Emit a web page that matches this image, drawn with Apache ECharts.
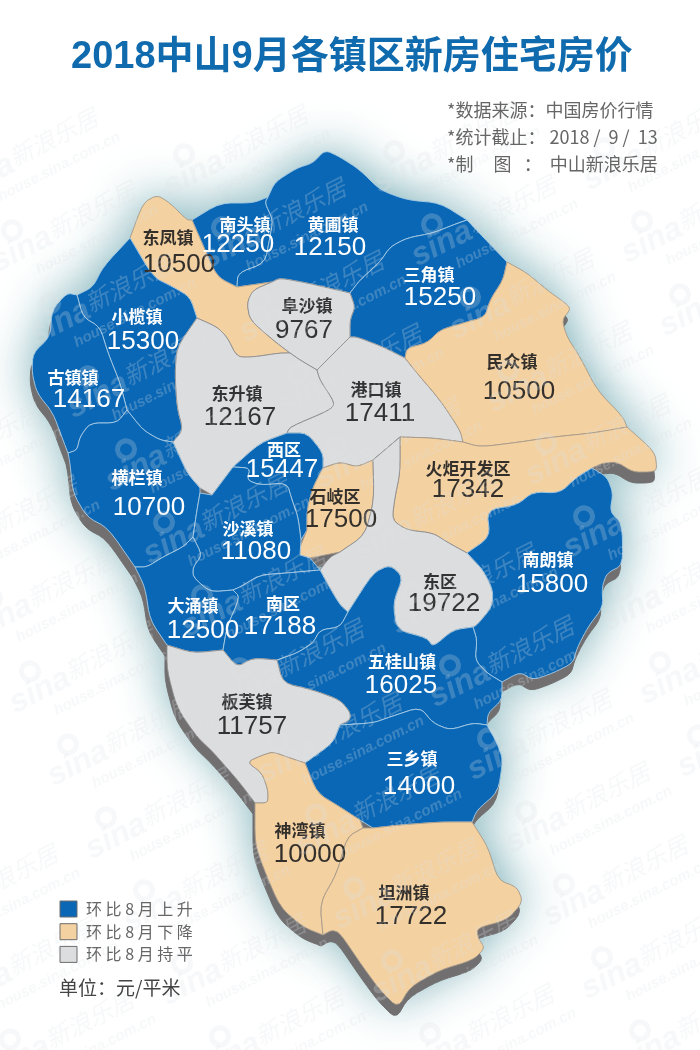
<!DOCTYPE html>
<html>
<head>
<meta charset="utf-8">
<title>2018中山9月各镇区新房住宅房价</title>
<style>
html,body{margin:0;padding:0;background:#fff;}
#chart{width:700px;height:1050px;}
</style>
</head>
<body>
<div id="chart"></div>
<script src="https://cdn.jsdelivr.net/npm/echarts@6/dist/echarts.min.js"></script>
<script>
var towns = ['南头镇','黄圃镇','东凤镇','三角镇','阜沙镇','小榄镇','古镇镇','东升镇','港口镇','民众镇','西区','横栏镇','石岐区','火炬开发区','沙溪镇','东区','南朗镇','大涌镇','南区','五桂山镇','板芙镇','三乡镇','神湾镇','坦洲镇'];
var prices = [12250,12150,10500,15250,9767,15300,14167,12167,17411,10500,15447,10700,17500,17342,11080,19722,15800,12500,17188,16025,11757,14000,10000,17722];
var trends = ['up','up','down','up','flat','up','up','flat','flat','down','up','up','down','down','up','flat','up','up','up','up','flat','up','down','down'];
var legendTexts = ['环 比 8 月 上 升','环 比 8 月 下 降','环 比 8 月 持 平'];
var legendTrends = ['up','down','flat'];
var notes = ['*数据来源：中国房价行情','*统计截止： 2018 /  9 /  13','*制     图   ：  中山新浪乐居'];

var fontFamily = '"Liberation Sans","Noto Sans CJK SC",sans-serif';
var cjkFont = '"Noto Sans CJK SC","Liberation Sans",sans-serif';
var trendStyle = {
	up: {color:'#0a67b5', border:'#a8cde6', text:'#fff'},
	down: {color:'#f4d1a1', border:'#a89c8c', text:'#33302c'},
	flat: {color:'#dcdddf', border:'#8f8f8f', text:'#333'}
};

// 区域轮廓，按图片像素描的
var shapes = {
	'南头镇': {nameAt:[245,225], valueAt:[238,245], line:[[192,220],[220,203],[253,203],[268,197],[265,203],[273,220],[270,237],[265,263],[238,273],[237,287],[217,277],[202,243]]},
	'黄圃镇': {nameAt:[333,225], valueAt:[330,248], line:[[268,197],[275,182],[297,168],[313,163],[325,150],[340,157],[360,170],[380,190],[407,200],[440,203],[467,220],[453,225],[433,233],[407,238],[390,247],[380,262],[360,280],[350,293],[337,290],[307,283],[280,278],[272,282],[237,287],[238,273],[265,263],[270,237],[273,220],[265,203]]},
	'东凤镇': {nameAt:[168,238], valueAt:[179,265], line:[[130,238],[143,203],[157,195],[170,203],[187,220],[192,220],[202,243],[217,277],[237,287],[272,282],[253,290],[247,303],[250,320],[273,340],[290,353],[280,353],[253,357],[237,357],[227,337],[217,327],[197,318],[190,297],[173,287],[153,277]]},
	'三角镇': {nameAt:[429,275], valueAt:[440,298], line:[[467,220],[483,237],[507,262],[503,280],[490,300],[485,317],[463,323],[440,330],[427,343],[407,348],[405,358],[383,347],[357,337],[350,337],[350,320],[355,307],[350,293],[360,280],[380,262],[390,247],[407,238],[433,233],[453,225]]},
	'阜沙镇': {nameAt:[307,306], valueAt:[304,331], line:[[272,282],[280,278],[307,283],[337,290],[350,293],[355,307],[350,320],[350,337],[340,347],[317,370],[300,360],[290,353],[273,340],[250,320],[247,303],[253,290]]},
	'小榄镇': {nameAt:[137,317], valueAt:[143,342], line:[[77,295],[93,287],[103,267],[130,238],[153,277],[173,287],[190,297],[197,318],[177,347],[175,373],[177,407],[183,430],[173,442],[160,440],[143,430],[127,410],[120,383],[108,353],[100,327],[83,317]]},
	'古镇镇': {nameAt:[73,378], valueAt:[89,400], line:[[77,295],[67,293],[52,310],[50,337],[33,353],[32,373],[37,393],[53,413],[63,440],[68,453],[77,450],[80,437],[90,423],[117,423],[127,410],[120,383],[108,353],[100,327],[83,317]]},
	'东升镇': {nameAt:[237,394], valueAt:[240,418], line:[[197,318],[217,327],[227,337],[237,357],[253,357],[280,353],[290,353],[300,360],[317,370],[320,380],[335,403],[330,410],[290,427],[287,433],[260,443],[233,467],[212,495],[200,488],[187,473],[173,442],[183,430],[177,407],[175,373],[177,347]]},
	'港口镇': {nameAt:[376,390], valueAt:[380,414], line:[[317,370],[340,347],[350,337],[357,337],[383,347],[405,358],[417,373],[440,400],[460,430],[463,442],[433,438],[400,437],[373,460],[357,467],[340,462],[323,468],[323,453],[307,433],[287,433],[290,427],[330,410],[335,403],[320,380]]},
	'民众镇': {nameAt:[512,362], valueAt:[519,392], line:[[507,262],[527,273],[547,290],[568,305],[570,310],[562,320],[567,337],[580,357],[597,390],[623,417],[627,427],[593,433],[553,437],[520,442],[480,447],[463,442],[460,430],[440,400],[417,373],[405,358],[407,348],[427,343],[440,330],[463,323],[485,317],[490,300],[503,280]]},
	'西区': {nameAt:[284,450], valueAt:[282,470], line:[[233,467],[260,443],[287,433],[307,433],[323,453],[323,468],[313,487],[307,510],[307,530],[301,540],[298,517],[292,500],[287,483],[260,485],[247,480],[250,468]]},
	'横栏镇': {nameAt:[137,478], valueAt:[149,508], line:[[68,453],[70,463],[73,493],[87,517],[108,528],[135,567],[147,567],[163,557],[183,547],[193,537],[197,510],[200,493],[200,488],[187,473],[173,442],[160,440],[143,430],[127,410],[117,423],[90,423],[80,437],[77,450]]},
	'石岐区': {nameAt:[335,497], valueAt:[341,520], line:[[323,468],[340,462],[357,467],[373,460],[374,500],[365,535],[340,552],[310,558],[300,555],[300,547],[307,530],[307,510],[313,487]]},
	'火炬开发区': {nameAt:[468,469], valueAt:[468,490], line:[[627,427],[655,452],[657,470],[650,472],[633,472],[617,462],[603,463],[592,468],[577,477],[560,493],[533,492],[517,505],[487,510],[490,537],[467,553],[447,542],[433,533],[407,530],[392,520],[395,497],[400,473],[400,437],[433,438],[463,442],[480,447],[520,442],[553,437],[593,433]]},
	'沙溪镇': {nameAt:[248,529], valueAt:[256,552], line:[[197,510],[200,493],[212,495],[233,467],[250,468],[247,480],[260,485],[287,483],[292,500],[298,517],[301,540],[300,555],[310,558],[320,570],[287,573],[260,575],[240,587],[233,590],[210,592],[193,577],[193,567],[202,555],[193,537]]},
	'东区': {nameAt:[440,582], valueAt:[444,604], line:[[373,460],[400,437],[400,473],[395,497],[392,520],[407,530],[433,533],[447,542],[467,553],[483,570],[493,590],[492,607],[477,625],[473,627],[453,630],[433,647],[427,638],[397,630],[393,603],[403,577],[390,565],[373,573],[348,612],[340,605],[327,583],[320,570],[330,557],[340,552],[365,535],[374,500]]},
	'南朗镇': {nameAt:[548,560], valueAt:[552,585], line:[[592,468],[607,477],[613,493],[610,512],[622,523],[623,565],[607,573],[602,587],[603,607],[588,627],[577,648],[573,663],[553,673],[533,680],[520,672],[502,682],[487,673],[475,660],[477,640],[473,627],[477,625],[492,607],[493,590],[483,570],[467,553],[490,537],[487,510],[517,505],[533,492],[560,493],[577,477]]},
	'大涌镇': {nameAt:[193,606], valueAt:[203,631], line:[[135,567],[145,587],[150,620],[167,645],[193,653],[223,650],[227,627],[240,597],[233,590],[210,592],[193,577],[193,567],[202,555],[193,537],[183,547],[163,557],[147,567]]},
	'南区': {nameAt:[283,604], valueAt:[280,627], line:[[233,590],[240,587],[260,575],[287,573],[320,570],[327,583],[340,605],[348,612],[340,627],[320,630],[313,643],[297,653],[277,660],[253,658],[237,667],[223,650],[227,627],[240,597]]},
	'五桂山镇': {nameAt:[402,662], valueAt:[401,686], line:[[277,660],[297,653],[313,643],[320,630],[340,627],[348,612],[373,573],[390,565],[403,577],[393,603],[397,630],[427,638],[433,647],[453,630],[473,627],[477,640],[475,660],[487,673],[502,682],[502,700],[488,713],[487,725],[473,723],[450,730],[433,723],[420,707],[390,717],[373,723],[340,725],[350,720],[350,712],[340,700],[313,690],[283,683]]},
	'板芙镇': {nameAt:[247,702], valueAt:[252,727], line:[[167,645],[193,653],[223,650],[237,667],[253,658],[277,660],[283,683],[313,690],[340,700],[350,712],[350,720],[340,725],[333,743],[305,763],[287,757],[273,752],[263,755],[247,762],[262,773],[268,790],[268,803],[255,803],[240,783],[213,752],[197,737],[177,708],[167,670]]},
	'三乡镇': {nameAt:[412,759], valueAt:[419,787], line:[[340,725],[373,723],[390,717],[420,707],[433,723],[450,730],[473,723],[487,725],[497,743],[503,760],[498,792],[477,810],[472,822],[440,822],[400,825],[373,828],[360,820],[340,807],[317,793],[305,763],[333,743]]},
	'神湾镇': {nameAt:[300,831], valueAt:[310,855], line:[[247,762],[263,755],[273,752],[287,757],[305,763],[317,793],[340,807],[360,820],[363,828],[347,837],[337,873],[320,903],[323,935],[303,927],[280,907],[263,867],[255,843],[255,803],[268,803],[268,790],[262,773]]},
	'坦洲镇': {nameAt:[404,893], valueAt:[411,917], line:[[363,828],[373,828],[400,825],[440,822],[472,822],[488,847],[498,880],[517,887],[523,902],[507,920],[477,928],[478,938],[485,948],[473,960],[440,970],[410,987],[398,1008],[380,990],[363,967],[340,933],[332,930],[323,935],[320,903],[337,873],[347,837]]}
};

// 三个区交界的点不动，其他点做圆角，这样相邻两区的边还是重合的
function findJunctions(){
	var near = {};
	towns.forEach(function(name){
		var line = shapes[name].line;
		line.forEach(function(p,i){
			var key = p.join(',');
			near[key] = near[key] || {};
			near[key][line[(i+1)%line.length].join(',')] = 1;
			near[key][line[(i+line.length-1)%line.length].join(',')] = 1;
		});
	});
	var fixed = {};
	for(var k in near){
		if(Object.keys(near[k]).length>2) fixed[k] = 1;
	}
	return fixed;
}
function roundRing(line,fixed){
	var out = [];
	line.forEach(function(p,i){
		if(fixed[p.join(',')]){
			out.push(p);
			return;
		}
		var a = line[(i+line.length-1)%line.length];
		var b = line[(i+1)%line.length];
		out.push([p[0]*0.8+a[0]*0.2,p[1]*0.8+a[1]*0.2]);
		out.push([p[0]*0.8+b[0]*0.2,p[1]*0.8+b[1]*0.2]);
	});
	return out;
}
function buildGeoJson(){
	var fixed = findJunctions();
	var features = [];
	for(var i=0;i<towns.length;i++){
		var s = shapes[towns[i]];
		var smooth = roundRing(roundRing(s.line,fixed),fixed);
		var ring = smooth.map(function(p){ return [p[0],-p[1]]; });
		ring.push(ring[0]);
		features.push({
			type:'Feature',
			properties:{name:towns[i], cp:[s.nameAt[0],-(s.valueAt[1]-10)]},
			geometry:{type:'Polygon', coordinates:[ring]}
		});
	}
	return {type:'FeatureCollection', features:features};
}
echarts.registerMap('zhongshan', buildGeoJson());

var bounds = [[0,0],[700,-1050]];

function baseGeo(dx,dy,z,style){
	return {
		map:'zhongshan',
		left:dx, top:dy, width:700, height:1050,
		boundingCoords:bounds,
		aspectScale:1,
		roam:false,
		silent:true,
		z:z,
		label:{show:false},
		itemStyle:style,
		emphasis:{disabled:true}
	};
}

var seriesData = towns.map(function(name,i){
	var st = trendStyle[trends[i]];
	var s = shapes[name];
	var dx = s.valueAt[0]-s.nameAt[0];
	var valueHeight = 2*(s.valueAt[1]-s.nameAt[1]-10);
	var pad = dx>0 ? [0,0,0,2*dx] : [0,-2*dx,0,0];
	return {
		name:name,
		value:prices[i],
		itemStyle:{areaColor:st.color, borderColor:st.border, borderWidth:0.9},
		label:{
			color:st.text,
			rich:{
				n:{fontFamily:cjkFont, fontSize:17, fontWeight:'bold', lineHeight:20, color:st.text},
				v:{fontFamily:fontFamily, fontSize:26, lineHeight:valueHeight, padding:pad, color:st.text}
			}
		}
	};
});

// 水印
var markColor = 'rgba(222,226,230,0.24)';
function markText(x,y,text,font,size,weight,align){
	return {type:'text', z:100, silent:true, style:{x:x,y:y,text:text,fontFamily:font,fontSize:size,fontWeight:weight,fontStyle:'italic',fill:markColor,align:align,verticalAlign:'middle'}};
}
var marks = [];
for(var a=-4;a<5;a++){
	for(var b=-2;b<16;b++){
		var mx = 60+a*210+b*38;
		var my = 323-a*3+b*73;
		if(mx<-80||mx>720||my<60||my>1060) continue;
		marks.push({
			type:'group', x:mx, y:my, rotation:Math.PI*27/180, silent:true,
			children:[
				{type:'ring', z:100, silent:true, x:0, y:-22, shape:{r:11,r0:6}, style:{fill:markColor}},
				markText(0,0,'sina',fontFamily,32,'bold','center'),
				markText(32,-4,'新浪乐居',cjkFont,24,'normal','left'),
				markText(4,25,'house.sina.com.cn',fontFamily,15,'bold','left')
			]
		});
	}
}

var noteGraphics = notes.map(function(t,i){
	return {type:'text', x:447, y:110+i*27, z:110, style:{text:t,fontFamily:cjkFont,fontSize:18,fill:'#666',verticalAlign:'middle'}};
});
var legendGraphics = [];
legendTexts.forEach(function(t,i){
	var st = trendStyle[legendTrends[i]];
	legendGraphics.push({type:'rect', x:60, y:901+i*22.7, z:110, shape:{width:17,height:16}, style:{fill:st.color,stroke:'#6d6d6d',lineWidth:1}});
	legendGraphics.push({type:'text', x:86, y:909+i*22.7, z:110, style:{text:t,fontFamily:cjkFont,fontSize:16,fill:'#666',verticalAlign:'middle'}});
});
legendGraphics.push({type:'text', x:59, y:988, z:110, style:{text:'单位：元/平米',fontFamily:cjkFont,fontSize:19,fill:'#444',verticalAlign:'middle'}});

var chart = echarts.init(document.getElementById('chart'));
chart.setOption({
	animation:false,
	backgroundColor:'#fff',
	title:{
		text:'2018中山9月各镇区新房住宅房价',
		left:66, top:34,
		textStyle:{fontFamily:fontFamily, fontSize:38, fontWeight:'bold', color:'#106aae'}
	},
	geo:[
		baseGeo(0,0,0,{areaColor:'#8fbdc8', borderColor:'#8fbdc8', borderWidth:0, shadowColor:'rgba(90,155,165,0.9)', shadowBlur:50}),
		baseGeo(-2,11,1,{areaColor:'#716f70', borderColor:'#716f70', borderWidth:1})
	],
	series:[{
		type:'map',
		map:'zhongshan',
		left:0, top:0, width:700, height:1050,
		boundingCoords:bounds,
		aspectScale:1,
		roam:false,
		silent:true,
		selectedMode:false,
		showLegendSymbol:false,
		z:2,
		label:{
			show:true,
			formatter:function(p){ return '{n|'+p.name+'}\n{v|'+p.value+'}'; }
		},
		emphasis:{disabled:true},
		data:seriesData
	}],
	graphic:marks.concat(noteGraphics).concat(legendGraphics)
});
</script>
</body>
</html>
